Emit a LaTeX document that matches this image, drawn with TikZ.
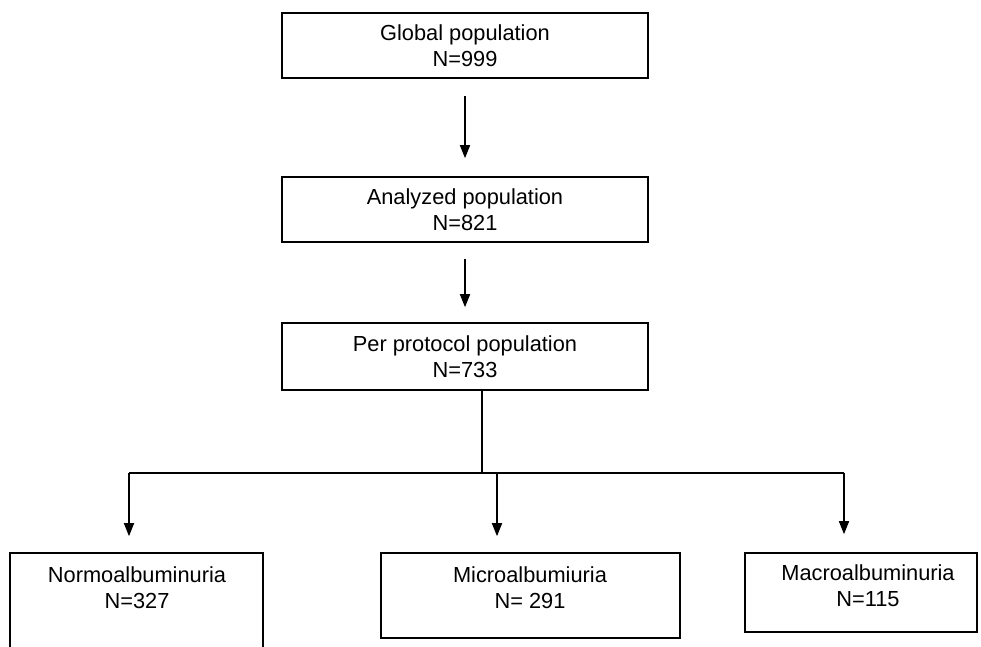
\documentclass[tikz,border=0pt]{standalone}
\usepackage{fontspec}
\setmainfont{Liberation Sans}
\usetikzlibrary{arrows.meta}
\begin{document}
\begin{tikzpicture}[x=0.5pt,y=-0.5pt,
  box/.style={draw, line width=0.8pt, inner sep=0pt, align=center, font=\fontsize{10.9}{13}\selectfont},
  lbl/.style={align=center, font=\fontsize{10.9}{13}\selectfont, inner sep=0pt},
  arr/.style={line width=0.8pt, -{Triangle[length=6.5pt,width=5pt]}},
  ln/.style={line width=0.8pt}]
\useasboundingbox (0,0) rectangle (981,647);
% upper boxes
\node[box, minimum width=183pt, minimum height=32.5pt] (g) at (465,45.5) {Global population\\N=999};
\node[box, minimum width=183pt, minimum height=32.5pt] (a) at (465,209.5) {Analyzed population\\N=821};
\node[box, minimum width=183pt, minimum height=33.5pt] (p) at (465,356.5) {Per protocol population\\N=733};
% bottom boxes
\node[box, minimum width=126.5pt, minimum height=53.5pt] (n) at (136.5,606.5) {};
\node[lbl] (nt) at (137,588) {Normoalbuminuria\\N=327};
\node[box, minimum width=149.5pt, minimum height=42.5pt] (m) at (530.5,595.5) {};
\node[lbl] (mt) at (530,588) {Microalbumiuria\\N= 291};
\node[box, minimum width=116pt, minimum height=39.5pt] (c) at (861,592.5) {};
\node[lbl] (ct) at (868,586) {Macroalbuminuria\\N=115};
% connectors
\draw[arr, shorten <=8.5pt, shorten >=9pt] (g) -- (a);
\draw[arr, shorten <=8pt, shorten >=7.5pt] (a) -- (p);
\coordinate (j) at (482,473);
\draw[ln] (p.south -| j) -- (j);
\coordinate (bl) at (129,473);
\coordinate (bm) at (497,473);
\coordinate (br) at (844,473);
\draw[ln] (bl) -- (br);
\draw[arr, shorten >=8pt] (bl) -- (bl |- n.north);
\draw[arr, shorten >=8pt] (bm) -- (bm |- m.north);
\draw[arr, shorten >=9pt] (br) -- (br |- c.north);
\end{tikzpicture}
\end{document}
